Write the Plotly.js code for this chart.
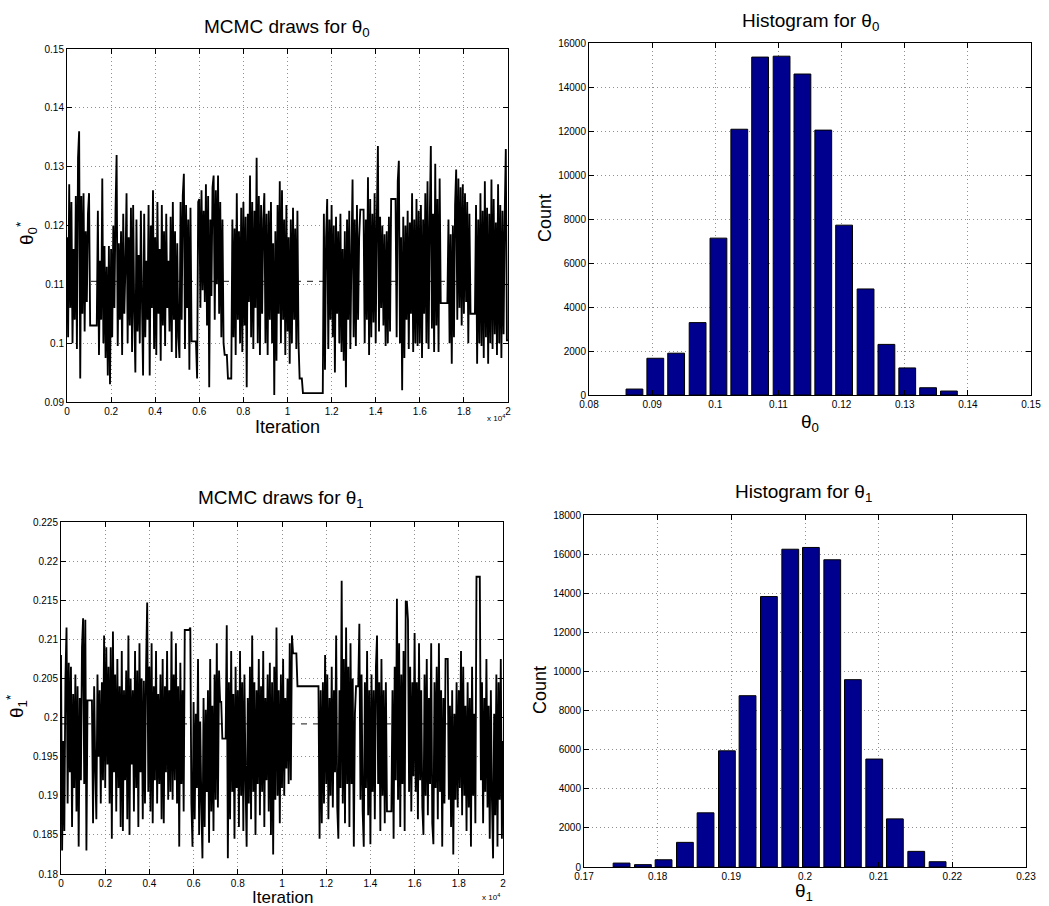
<!DOCTYPE html>
<html>
<head>
<meta charset="utf-8">
<script src="https://cdn.plot.ly/plotly-3.0.1.min.js"></script>
<style>html,body{margin:0;padding:0;background:#fff;}#chart{width:1049px;height:906px;}</style>
</head>
<body>
<div id="chart"></div>
<script>
// ---- Data ----
const iterationStep = 50; // one stored draw per 50 iterations
const theta0Draws = [
0.118,0.101,0.127,0.106,0.124,0.100,0.116,0.104,0.125,0.099,0.1315,0.136,0.094,0.125,0.105,0.1255,0.102,0.119,0.107,0.122,
0.1255,0.103,0.103,0.103,0.103,0.103,0.103,0.103,0.1225,0.098,0.114,0.104,0.128,0.100,0.1165,0.0975,0.113,0.0945,0.1165,0.093,
0.116,0.101,0.120,0.106,0.1225,0.132,0.0995,0.117,0.104,0.119,0.098,0.122,0.105,0.113,0.1255,0.100,0.118,0.103,0.123,0.0985,
0.1235,0.105,0.095,0.121,0.102,0.115,0.100,0.1225,0.107,0.0945,0.122,0.101,0.114,0.104,0.1235,0.0945,0.120,0.106,0.126,0.099,
0.118,0.098,0.124,0.105,0.116,0.097,0.1235,0.103,0.119,0.0995,0.122,0.106,0.114,0.102,0.1215,0.0985,0.124,0.104,0.119,0.0975,
0.117,0.101,0.0975,0.124,0.104,0.125,0.1288,0.099,0.1235,0.106,0.121,0.0955,0.123,0.1003,0.1003,0.1003,0.1003,0.1003,0.094,0.124,
0.1245,0.106,0.126,0.109,0.1225,0.107,0.127,0.103,0.125,0.0925,0.121,0.108,0.1265,0.1285,0.104,0.126,0.110,0.1285,0.105,0.124,
0.101,0.121,0.100,0.098,0.098,0.098,0.094,0.094,0.094,0.094,0.121,0.101,0.1195,0.098,0.1255,0.104,0.119,0.100,0.123,0.0985,
0.124,0.103,0.1215,0.0925,0.122,0.107,0.1285,0.101,0.124,0.099,0.1225,0.106,0.1315,0.100,0.125,0.098,0.1235,0.105,0.121,0.1255,
0.100,0.122,0.098,0.1225,0.104,0.124,0.100,0.117,0.0912,0.119,0.097,0.1235,0.105,0.1275,0.100,0.126,0.104,0.121,0.098,0.1235,
0.102,0.118,0.0965,0.121,0.100,0.123,0.104,0.1195,0.099,0.1225,0.100,0.094,0.094,0.094,0.0915,0.0915,0.0915,0.0915,0.0915,0.0915,
0.0915,0.0915,0.0915,0.0915,0.0915,0.0915,0.0915,0.0915,0.0915,0.0915,0.0915,0.0915,0.0915,0.122,0.0955,0.118,0.1245,0.099,0.121,0.104,
0.1235,0.101,0.120,0.095,0.1215,0.105,0.119,0.100,0.122,0.0985,0.116,0.097,0.119,0.0925,0.121,0.104,0.1225,0.099,0.115,0.1278,
0.101,0.121,0.0995,0.1235,0.104,0.118,0.1227,0.1227,0.1227,0.1227,0.100,0.121,0.104,0.1282,0.098,0.1245,0.101,0.122,0.1035,0.1255,
0.100,0.121,0.1335,0.102,0.1215,0.106,0.120,0.103,0.1185,0.0995,0.119,0.100,0.1215,0.102,0.1245,0.1245,0.1245,0.1245,0.1245,0.101,
0.1275,0.131,0.100,0.118,0.092,0.1215,0.0975,0.120,0.104,0.1225,0.099,0.1205,0.105,0.1255,0.0985,0.121,0.100,0.1245,0.0995,0.1225,
0.100,0.1235,0.0975,0.121,0.105,0.1255,0.100,0.1275,0.099,0.1205,0.1335,0.1025,0.122,0.0985,0.1305,0.103,0.1245,0.0985,0.128,0.1068,
0.1068,0.1068,0.1068,0.1068,0.1068,0.1068,0.121,0.100,0.1185,0.0965,0.120,0.101,0.1235,0.1295,0.104,0.128,0.106,0.1265,0.103,0.127,
0.105,0.1255,0.107,0.124,0.100,0.122,0.105,0.105,0.105,0.105,0.105,0.1235,0.0965,0.121,0.100,0.1255,0.0995,0.1225,0.0975,0.1275,
0.101,0.123,0.0965,0.122,0.100,0.1278,0.099,0.1245,0.1015,0.1205,0.098,0.127,0.100,0.1235,0.0975,0.1225,0.1015,0.1215,0.133,0.1005,
0.1005
];
const theta1Draws = [
0.208,0.183,0.197,0.1855,0.205,0.2115,0.189,0.207,0.193,0.2065,0.186,0.203,0.191,0.2055,0.188,0.204,0.1835,0.2025,0.192,0.209,
0.2127,0.1915,0.2125,0.183,0.2022,0.2022,0.2022,0.2022,0.2022,0.1865,0.204,0.1935,0.187,0.2055,0.195,0.2035,0.189,0.2045,0.192,0.2105,
0.191,0.209,0.194,0.2065,0.189,0.209,0.1845,0.211,0.193,0.2055,0.188,0.2075,0.191,0.204,0.186,0.2085,0.1855,0.2035,0.192,0.206,
0.187,0.2105,0.185,0.205,0.194,0.2035,0.188,0.2085,0.191,0.206,0.186,0.2095,0.193,0.205,0.187,0.2047,0.189,0.2065,0.2147,0.1905,
0.2065,0.188,0.2095,0.1865,0.204,0.192,0.2085,0.189,0.203,0.1915,0.2055,0.187,0.2075,0.1865,0.204,0.193,0.2085,0.1895,0.2035,0.1905,
0.211,0.1895,0.2055,0.192,0.2095,0.189,0.204,0.1835,0.207,0.1915,0.2035,0.188,0.2112,0.2112,0.2112,0.2112,0.2112,0.2115,0.189,0.1835,
0.202,0.187,0.2005,0.191,0.2075,0.185,0.1995,0.189,0.182,0.2025,0.186,0.201,0.1905,0.2035,0.184,0.2075,0.188,0.2015,0.1855,0.2055,
0.1895,0.2095,0.1885,0.206,0.202,0.202,0.1973,0.1973,0.1973,0.1973,0.2118,0.182,0.2045,0.187,0.2085,0.1905,0.203,0.1845,0.2065,0.191,
0.2035,0.186,0.2085,0.190,0.2045,0.1855,0.2055,0.192,0.1835,0.2025,0.189,0.2065,0.187,0.2105,0.1905,0.2045,0.185,0.2035,0.1915,0.2075,
0.1875,0.204,0.1905,0.2085,0.186,0.2025,0.192,0.2055,0.188,0.207,0.185,0.2045,0.1825,0.2065,0.1895,0.2115,0.190,0.2035,0.1865,0.2055,
0.191,0.2075,0.190,0.2025,0.1935,0.205,0.1915,0.2095,0.192,0.2105,0.2082,0.2082,0.2082,0.2082,0.204,0.204,0.204,0.204,0.204,0.204,
0.204,0.204,0.204,0.204,0.204,0.204,0.204,0.204,0.204,0.204,0.204,0.204,0.204,0.204,0.1845,0.2035,0.1865,0.2045,0.189,0.208,
0.1915,0.2055,0.187,0.2025,0.190,0.2065,0.1885,0.2035,0.193,0.2105,0.1885,0.1845,0.2035,0.191,0.2175,0.189,0.2075,0.1865,0.2115,0.1915,
0.2065,0.186,0.2095,0.1915,0.205,0.1835,0.2005,0.204,0.204,0.204,0.212,0.1895,0.2055,0.188,0.1835,0.2045,0.191,0.2085,0.1875,0.2035,
0.1838,0.2055,0.1905,0.2035,0.187,0.2065,0.2105,0.1915,0.2045,0.1855,0.2075,0.190,0.2035,0.1865,0.2045,0.188,0.188,0.188,0.188,0.188,
0.2035,0.1845,0.2065,0.192,0.2152,0.1895,0.2095,0.186,0.2055,0.1915,0.2085,0.1855,0.2148,0.2148,0.2125,0.1905,0.2065,0.188,0.2045,0.1925,
0.2108,0.1905,0.2045,0.187,0.2095,0.192,0.2035,0.1885,0.185,0.2055,0.190,0.2075,0.1875,0.2025,0.1915,0.2095,0.1865,0.1838,0.2045,0.191,
0.2065,0.187,0.2095,0.1905,0.2035,0.1835,0.2025,0.189,0.2075,0.2075,0.2075,0.1895,0.2015,0.186,0.2035,0.1825,0.2005,0.1895,0.2045,0.1885,
0.2035,0.191,0.2085,0.1875,0.2065,0.190,0.2015,0.1855,0.2045,0.1885,0.2025,0.1835,0.2065,0.190,0.2005,0.1865,0.218,0.218,0.218,0.218,
0.192,0.2045,0.1865,0.2025,0.1905,0.2075,0.1885,0.2015,0.1845,0.2035,0.1895,0.182,0.2005,0.1875,0.2055,0.1835,0.2045,0.1895,0.2075,0.1845,
0.197
];
const theta0Mean = 0.1105;
const theta1Mean = 0.1992;

const hist0Centers = [0.0872,0.0905,0.0938,0.0972,0.1005,0.1038,0.1071,0.1105,0.1138,0.1171,0.1204,0.1238,0.1271,0.1304,0.1337,0.1370];
const hist0Counts  = [270,1670,1900,3290,7130,12080,15360,15400,14590,12040,7720,4820,2300,1230,330,180];
const hist1Centers = [0.1751,0.1780,0.1808,0.1837,0.1865,0.1894,0.1922,0.1951,0.1980,0.2008,0.2037,0.2065,0.2094,0.2122,0.2151,0.2180];
const hist1Counts  = [200,120,370,1260,2770,5940,8760,13830,16250,16340,15710,9580,5520,2460,800,270];

const iterTickVals = [0,2000,4000,6000,8000,10000,12000,14000,16000,18000,20000];
const iterTickText = ['0','0.2','0.4','0.6','0.8','1','1.2','1.4','1.6','1.8','2'];
const trace0TickVals = [0.09,0.10,0.11,0.12,0.13,0.14,0.15];
const trace0TickText = ['0.09','0.1','0.11','0.12','0.13','0.14','0.15'];
const trace1TickVals = [0.18,0.185,0.19,0.195,0.2,0.205,0.21,0.215,0.22,0.225];
const trace1TickText = ['0.18','0.185','0.19','0.195','0.2','0.205','0.21','0.215','0.22','0.225'];
const hist0TickVals = [0.08,0.09,0.10,0.11,0.12,0.13,0.14,0.15];
const hist0TickText = ['0.08','0.09','0.1','0.11','0.12','0.13','0.14','0.15'];
const hist1TickVals = [0.17,0.18,0.19,0.20,0.21,0.22,0.23];
const hist1TickText = ['0.17','0.18','0.19','0.2','0.21','0.22','0.23'];
const count0TickVals = [0,2000,4000,6000,8000,10000,12000,14000,16000];
const count1TickVals = [0,2000,4000,6000,8000,10000,12000,14000,16000,18000];

// ---- Build ----
const iters0 = theta0Draws.map((_, i) => i * iterationStep);
const iters1 = theta1Draws.map((_, i) => i * iterationStep);
const W = 1049, H = 906;
const px = v => v / W;
const py = v => 1 - v / H;

const traces = [
  {x:[0,20000], y:[theta0Mean,theta0Mean], xaxis:'x', yaxis:'y', mode:'lines',
   line:{color:'#444', width:1.2, dash:'6px,6px'}, hoverinfo:'skip'},
  {x:iters0, y:theta0Draws, xaxis:'x', yaxis:'y', mode:'lines',
   line:{color:'black', width:1.85, simplify:false}},
  {x:hist0Centers, y:hist0Counts, xaxis:'x2', yaxis:'y2', type:'bar', width:0.00266,
   marker:{color:'rgb(0,0,143)', line:{color:'black', width:1}}},
  {x:[0,20000], y:[theta1Mean,theta1Mean], xaxis:'x3', yaxis:'y3', mode:'lines',
   line:{color:'#444', width:1.2, dash:'6px,6px'}, hoverinfo:'skip'},
  {x:iters1, y:theta1Draws, xaxis:'x3', yaxis:'y3', mode:'lines',
   line:{color:'black', width:1.85, simplify:false}},
  {x:hist1Centers, y:hist1Counts, xaxis:'x4', yaxis:'y4', type:'bar', width:0.00228,
   marker:{color:'rgb(0,0,143)', line:{color:'black', width:1}}}
];

const baseAxis = {
  showgrid:true, gridcolor:'#909090', griddash:'1px,3px', gridwidth:1,
  showline:true, linecolor:'black', linewidth:1, mirror:'ticks',
  ticks:'inside', ticklen:5, tickcolor:'black', zeroline:false,
  tickfont:{family:'Arial, Liberation Sans, sans-serif', size:10, color:'black'},
  tickmode:'array', fixedrange:true
};
const ax = (o) => Object.assign({}, baseAxis, o);

const layout = {
  width:W, height:H, margin:{l:0,r:0,t:0,b:0},
  paper_bgcolor:'white', plot_bgcolor:'white', showlegend:false,
  xaxis:  ax({domain:[px(67),px(508)], range:[0,20000], tickvals:iterTickVals, ticktext:iterTickText, anchor:'y'}),
  yaxis:  ax({domain:[py(402),py(49)], range:[0.09,0.15], tickvals:trace0TickVals, ticktext:trace0TickText, anchor:'x'}),
  xaxis2: ax({domain:[px(589),px(1031)], range:[0.08,0.15], tickvals:hist0TickVals, ticktext:hist0TickText, anchor:'y2'}),
  yaxis2: ax({domain:[py(395),py(43)], range:[0,16000], tickvals:count0TickVals, ticktext:count0TickVals.map(String), anchor:'x2'}),
  xaxis3: ax({domain:[px(61),px(503)], range:[0,20000], tickvals:iterTickVals, ticktext:iterTickText, anchor:'y3'}),
  yaxis3: ax({domain:[py(874),py(522)], range:[0.18,0.225], tickvals:trace1TickVals, ticktext:trace1TickText, anchor:'x3'}),
  xaxis4: ax({domain:[px(584),px(1026)], range:[0.17,0.23], tickvals:hist1TickVals, ticktext:hist1TickText, anchor:'y4'}),
  yaxis4: ax({domain:[py(867),py(515)], range:[0,18000], tickvals:count1TickVals, ticktext:count1TickVals.map(String), anchor:'x4'}),
  annotations: []
};

const FONT = 'Arial, Liberation Sans, sans-serif';
function note(text, x, y, size, angle, extra) {
  layout.annotations.push(Object.assign({text:text, xref:'paper', yref:'paper', x:px(x), y:py(y),
    xanchor:'center', yanchor:'middle', showarrow:false, textangle:angle||0,
    font:{family:FONT, size:size, color:'black'}}, extra||{}));
}
note('MCMC draws for θ<sub>0</sub>', 287, 28, 19);
note('Histogram for θ<sub>0</sub>', 810, 22, 19);
note('MCMC draws for θ<sub>1</sub>', 281, 499, 19);
note('Histogram for θ<sub>1</sub>', 803, 493, 19);
note('Iteration', 287, 427, 18);
note('Iteration', 282, 906, 17, 0, {yanchor:'bottom', height:15, borderpad:0, valign:'middle'});
note('x 10<sup>4</sup>', 496, 418, 8);
note('x 10<sup>4</sup>', 491, 897, 8);
note('θ<sub>0</sub><sup>*</sup>', 26, 234, 19, -90);
note('θ<sub>1</sub><sup>*</sup>', 16, 707, 19, -90);
note('Count', 545, 218, 18, -90);
note('Count', 540, 690, 18, -90);
note('θ<sub>0</sub>', 810, 423, 19);
note('θ<sub>1</sub>', 804, 892, 19);

Plotly.newPlot('chart', traces, layout, {staticPlot:true, displayModeBar:false});
</script>
</body>
</html>
